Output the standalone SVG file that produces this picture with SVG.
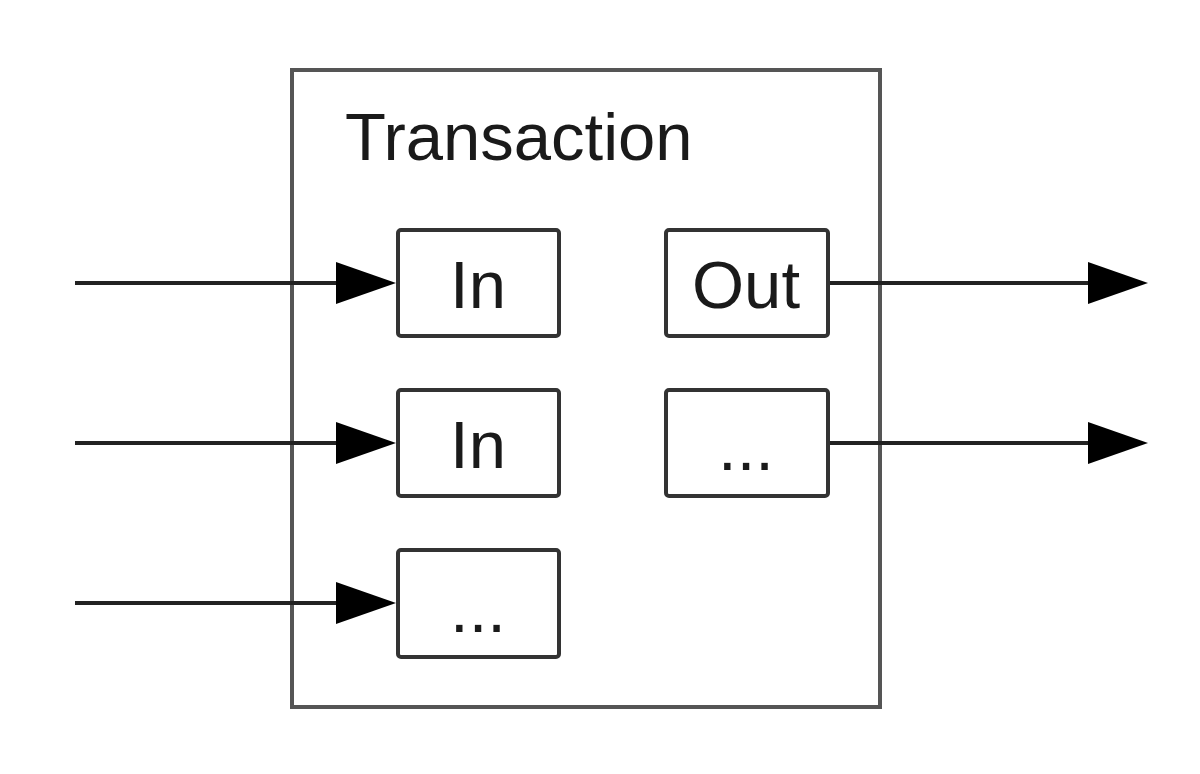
<svg xmlns="http://www.w3.org/2000/svg" width="1200" height="774" viewBox="0 0 1200 774">
<style>
.outer{fill:#fff;stroke:#555;stroke-width:4}
.box{fill:#fff;stroke:#333;stroke-width:4}
.t{font-family:"Liberation Sans",Arial,sans-serif;font-size:67px;fill:#1a1a1a}
.c{text-anchor:middle}
.edge{stroke:#222;stroke-width:4;fill:none;marker-end:url(#ah)}
</style>
<defs>
<marker id="ah" markerUnits="userSpaceOnUse" markerWidth="62" markerHeight="44" refX="42" refY="22" orient="auto">
<path d="M0,1 L60,22 L0,43 Z" fill="#000"/>
</marker>
</defs>
<rect width="1200" height="774" fill="#fff"/>
<g id="transaction">
<rect class="outer" x="292" y="70" width="588" height="637"/>
<text class="t" x="345" y="160">Transaction</text>
</g>
<g id="connectors">
<line class="edge" x1="75" y1="283" x2="378" y2="283"/>
<line class="edge" x1="75" y1="443" x2="378" y2="443"/>
<line class="edge" x1="75" y1="603" x2="378" y2="603"/>
<line class="edge" x1="830" y1="283" x2="1130" y2="283"/>
<line class="edge" x1="830" y1="443" x2="1130" y2="443"/>
</g>
<g id="in1">
<rect class="box" x="398" y="230" width="161" height="106" rx="3"/>
<text class="t c" x="478" y="308">In</text>
</g>
<g id="in2">
<rect class="box" x="398" y="390" width="161" height="106" rx="3"/>
<text class="t c" x="478" y="468">In</text>
</g>
<g id="in3">
<rect class="box" x="398" y="550" width="161" height="107" rx="3"/>
<text class="t c" x="478" y="632">...</text>
</g>
<g id="out1">
<rect class="box" x="666" y="230" width="162" height="106" rx="3"/>
<text class="t c" x="746" y="308">Out</text>
</g>
<g id="out2">
<rect class="box" x="666" y="390" width="162" height="106" rx="3"/>
<text class="t c" x="746" y="470">...</text>
</g>
</svg>
